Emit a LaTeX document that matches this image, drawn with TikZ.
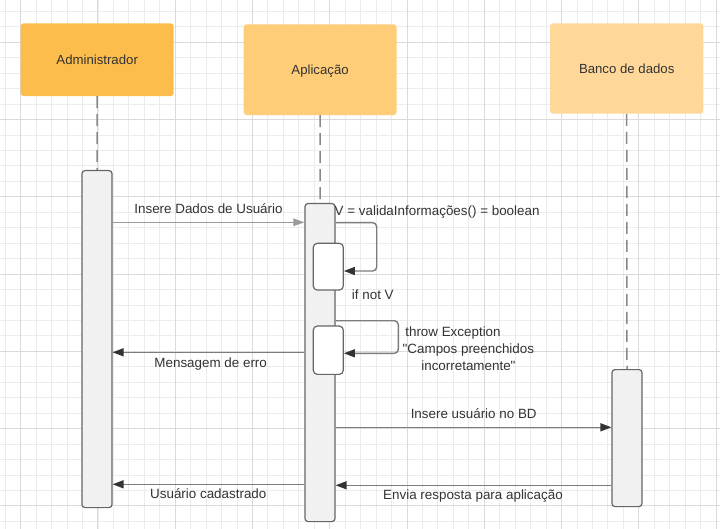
\documentclass[tikz,border=0pt]{standalone}
\usepackage{fontspec}
\setmainfont{Liberation Sans}
\usetikzlibrary{arrows.meta}
\definecolor{gridminor}{HTML}{ECECEC}
\definecolor{gridmajor}{HTML}{DADADA}
\definecolor{actorA}{HTML}{FDBD4C}
\definecolor{actorB}{HTML}{FFCC78}
\definecolor{actorC}{HTML}{FFD899}
\definecolor{barfill}{HTML}{F1F1F1}
\definecolor{bardraw}{HTML}{666666}
\definecolor{linegray}{HTML}{7C7C7C}
\definecolor{lightline}{HTML}{9A9A9A}
\definecolor{headdark}{HTML}{333333}
\definecolor{textgray}{HTML}{333333}
\tikzset{
    actor/.style={rounded corners=3pt, inner sep=0pt, text=textgray,
        text height=9.5pt, text depth=0pt, font=\fontsize{13.2}{16}\selectfont},
    actbar/.style={draw=bardraw, fill=barfill, line width=1.2pt,
        rounded corners=3pt, minimum width=30pt, inner sep=0pt},
    subbar/.style={draw=bardraw, fill=white, line width=1.2pt,
        rounded corners=4pt, minimum width=30pt, inner sep=0pt},
    lifeline/.style={draw=linegray!90, line width=1.5pt, dash pattern=on 12pt off 6pt},
    msg/.style={draw=linegray, line width=1.4pt,
        -{Triangle[length=11pt, width=8pt, color=headdark]}},
    msglight/.style={draw=lightline, line width=1.4pt,
        -{Triangle[length=11pt, width=7.5pt, color=lightline]}},
    lbl/.style={text=textgray, inner sep=0pt, font=\fontsize{13.4}{17.3}\selectfont}
}
\begin{document}
\begin{tikzpicture}[x=1pt, y=-1pt]
            \useasboundingbox (0,0) rectangle (720,529);
            \fill[white] (0,0) rectangle (720,529);
            % grid
            \foreach \i in {0,...,46}
                \draw[gridminor, line width=0.9pt] (5.25+15.452*\i, 0) -- (5.25+15.452*\i, 529);
            \foreach \i in {0,...,33}
                \draw[gridminor, line width=0.9pt] (0, 11.4+15.452*\i) -- (720, 11.4+15.452*\i);
            \foreach \i in {0,...,9}
                \draw[gridmajor, line width=1pt] (20.7+77.26*\i, 0) -- (20.7+77.26*\i, 529);
            \foreach \i in {0,...,6}
                \draw[gridmajor, line width=1pt] (0, 42.3+77.26*\i) -- (720, 42.3+77.26*\i);

            % participants
            \node[actor, fill=actorA, minimum width=153pt, minimum height=72.7pt]
                (admin) at (97.2, 59.7) {Administrador};
            \node[actor, fill=actorB, minimum width=152.8pt, minimum height=90.7pt]
                (app) at (320.1, 69.7) {Aplicação};
            \node[actor, fill=actorC, minimum width=153.3pt, minimum height=90.4pt]
                (bd) at (626.7, 68.5) {Banco de dados};

            % activation bars
            \node[actbar, anchor=north, minimum height=337pt] (adminbar) at (97, 170) {};
            \node[actbar, anchor=north, minimum height=318pt] (appbar) at (320, 203) {};
            \node[actbar, anchor=north, minimum height=137pt] (bdbar) at (627, 369) {};
            \node[subbar, minimum height=46.7pt] (check) at (328.3, 266.7) {};
            \node[subbar, minimum height=48.3pt] (throw) at (328.3, 350.2) {};

            \draw[lifeline] (admin.south) -- (adminbar.north);
            \draw[lifeline] (app.south) -- (appbar.north);
            \draw[lifeline] (bd.south) -- (bdbar.north);

            % message levels
            \coordinate (m1) at (0, 222.3);
            \coordinate (s1) at (376.7, 222.7);
            \coordinate (s1end) at (376.7, 271);
            \coordinate (s2) at (398.3, 320.7);
            \coordinate (s2end) at (398.3, 353.3);
            \coordinate (m2) at (0, 352.3);
            \coordinate (m3) at (0, 427.3);
            \coordinate (m4) at (0, 485.3);
            \coordinate (m5) at (0, 484.3);

            \draw
                [msglight]
                (adminbar.east |- m1) -- (appbar.west |- m1);
            \node[lbl, anchor=base] (lblinsere) at (208.5, 214) {Insere Dados de Usuário};

            \draw
                [msg, rounded corners=4pt]
                (appbar.east |- s1) -| (s1end) -- (check.east |- s1end);
            \node[lbl, anchor=base west] (lblvalida) at (334.5, 215.7) {V = validaInformações() = boolean};
            \node[lbl, anchor=base] (lblifnot) at (372.8, 300) {if not V};

            \draw
                [msg, rounded corners=4pt]
                (appbar.east |- s2) -| (s2end) -- (throw.east |- s2end);
            \node[lbl, anchor=north, align=center] (lblthrow) at (468.4, 326.3)
                {throw Exception\hspace*{30.8pt}\\\textquotedbl Campos preenchidos\\incorretamente\textquotedbl};

            \draw
                [msg]
                (appbar.west |- m2) -- (adminbar.east |- m2);
            \node[lbl, anchor=base] (lblerro) at (210.7, 367) {Mensagem de erro};

            \draw
                [msg]
                (appbar.east |- m3) -- (bdbar.west |- m3);
            \node[lbl, anchor=base] (lblbd) at (473.7, 418.3) {Insere usuário no BD};

            \draw
                [msg]
                (bdbar.west |- m4) -- (appbar.east |- m4);
            \node[lbl, anchor=base] (lblresp) at (473, 499) {Envia resposta para aplicação};

            \draw
                [msg]
                (appbar.west |- m5) -- (adminbar.east |- m5);
            \node[lbl, anchor=base] (lblcad) at (208.3, 498.7) {Usuário cadastrado};
        \end{tikzpicture}
\end{document}
